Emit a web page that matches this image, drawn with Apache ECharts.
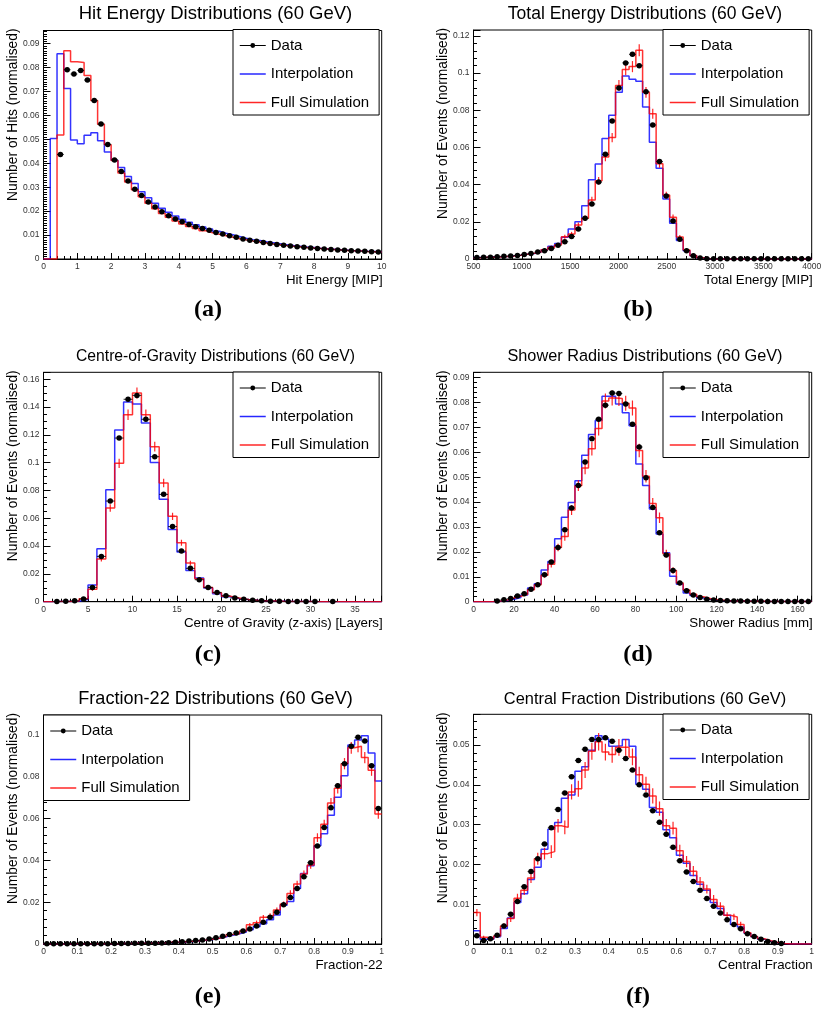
<!DOCTYPE html>
<html><head><meta charset="utf-8">
<script src="https://cdn.jsdelivr.net/npm/echarts@6/dist/echarts.min.js"></script>
<style>html,body{margin:0;padding:0;background:#fff}#c{width:827px;height:1013px}</style>
</head><body><div id="c"></div>
<script>
// ---------------- DATA ----------------
const seriesNames = ['Data', 'Interpolation', 'Full Simulation'];

// (a) Hit energy, 50 bins over [0,10]
const hitData = [null, null, 0.0437, 0.0791, 0.0773, 0.0788, 0.0748, 0.0662, 0.0564, 0.0479,
  0.0414, 0.0366, 0.0326, 0.0292, 0.0265, 0.0238, 0.0217, 0.0198, 0.0181, 0.0167,
  0.0156, 0.0144, 0.0135, 0.0127, 0.0120, 0.0111, 0.0104, 0.0097, 0.0091, 0.0084,
  0.0078, 0.0074, 0.0069, 0.0065, 0.0061, 0.0057, 0.0054, 0.0051, 0.0049, 0.0046,
  0.0044, 0.0042, 0.0040, 0.0038, 0.0037, 0.0035, 0.0033, 0.0032, 0.0030, 0.0029];
const hitInterp = [0, 0.0504, 0.0858, 0.0713, 0.0497, 0.0482, 0.0517, 0.0528, 0.0494, 0.0447,
  0.0413, 0.0382, 0.0345, 0.0316, 0.0281, 0.0256, 0.0233, 0.0212, 0.0195, 0.0180,
  0.0166, 0.0154, 0.0143, 0.0134, 0.0125, 0.0116, 0.0108, 0.0101, 0.0094, 0.0087,
  0.0081, 0.0077, 0.0072, 0.0068, 0.0064, 0.0060, 0.0056, 0.0053, 0.0050, 0.0048,
  0.0045, 0.0043, 0.0041, 0.0039, 0.0037, 0.0035, 0.0034, 0.0032, 0.0031, 0.0030];
const hitFull = [0, 0, 0.0518, 0.0870, 0.0824, 0.0821, 0.0767, 0.0662, 0.0563, 0.0478,
  0.0412, 0.0359, 0.0322, 0.0289, 0.0260, 0.0233, 0.0210, 0.0190, 0.0174, 0.0159,
  0.0146, 0.0136, 0.0127, 0.0118, 0.0110, 0.0103, 0.0097, 0.0091, 0.0085, 0.0080,
  0.0075, 0.0071, 0.0067, 0.0063, 0.0060, 0.0056, 0.0053, 0.0051, 0.0048, 0.0046,
  0.0044, 0.0042, 0.0040, 0.0038, 0.0036, 0.0034, 0.0033, 0.0031, 0.0030, 0.0029];

// (b) Total energy, 50 bins over [500,4000]
const totData = [0.0008, 0.0009, 0.0010, 0.0012, 0.0015, 0.0016, 0.0019, 0.0024, 0.0030, 0.0037,
  0.0045, 0.0057, 0.0074, 0.0093, 0.0121, 0.0161, 0.0219, 0.0296, 0.0414, 0.0563,
  0.0743, 0.0920, 0.1055, 0.1101, 0.1040, 0.0900, 0.0721, 0.0524, 0.0339, 0.0204,
  0.0106, 0.0045, 0.0017, 0.0006, 0.0002, 0.0001, 0.0001, 0.0001, 0.0001, 0.0001,
  0.0001, 0.0001, 0.0001, 0.0001, 0.0001, 0.0001, 0.0001, 0.0001, 0.0001, 0.0001];
const totInterp = [0.0008, 0.0009, 0.0011, 0.0012, 0.0014, 0.0017, 0.0020, 0.0025, 0.0030, 0.0037,
  0.0050, 0.0068, 0.0083, 0.0117, 0.0161, 0.0201, 0.0287, 0.0427, 0.0511, 0.0648,
  0.0773, 0.0897, 0.0985, 0.0967, 0.0956, 0.0818, 0.0628, 0.0488, 0.0323, 0.0192,
  0.0100, 0.0045, 0.0017, 0.0005, 0.0002, 0, 0, 0, 0, 0,
  0, 0, 0, 0, 0, 0, 0, 0, 0, 0];
const totFull = [0.0007, 0.0009, 0.0010, 0.0011, 0.0014, 0.0016, 0.0020, 0.0026, 0.0031, 0.0038,
  0.0050, 0.0063, 0.0076, 0.0120, 0.0135, 0.0183, 0.0219, 0.0317, 0.0421, 0.0549,
  0.0653, 0.0934, 0.1019, 0.1035, 0.1123, 0.0897, 0.0782, 0.0513, 0.0344, 0.0224,
  0.0118, 0.0048, 0.0019, 0.0007, 0.0002, 0, 0, 0, 0, 0,
  0, 0, 0, 0, 0, 0, 0, 0, 0, 0];
const totFullErr = [0.0002, 0.0002, 0.0003, 0.0003, 0.0003, 0.0004, 0.0004, 0.0005, 0.0005, 0.0006,
  0.0007, 0.0008, 0.0009, 0.0011, 0.0011, 0.0013, 0.0015, 0.0018, 0.0020, 0.0023,
  0.0025, 0.0029, 0.0030, 0.0030, 0.0032, 0.0029, 0.0027, 0.0022, 0.0018, 0.0015,
  0.0011, 0.0007, 0.0004, 0.0003, 0.0001, 0, 0, 0, 0, 0,
  0, 0, 0, 0, 0, 0, 0, 0, 0, 0];

// (c) Centre of gravity, 38 bins over [0,38]
const cogData = [null, 0.0002, 0.0003, 0.0006, 0.0019, 0.0103, 0.0326, 0.0724, 0.1177, 0.1456,
  0.1484, 0.1312, 0.1043, 0.0772, 0.0540, 0.0364, 0.0240, 0.0158, 0.0103, 0.0067,
  0.0043, 0.0027, 0.0017, 0.0011, 0.0007, 0.0004, 0.0003, 0.0002, 0.0001, 0.0001,
  0.0001, null, 0.0001, null, null, null, null, null];
const cogInterp = [0, 0.0001, 0.0002, 0.0004, 0.0016, 0.0120, 0.0381, 0.0806, 0.1235, 0.1437,
  0.1422, 0.1285, 0.1002, 0.0736, 0.0520, 0.0357, 0.0225, 0.0170, 0.0098, 0.0058,
  0.0036, 0.0022, 0.0015, 0.0010, 0.0006, 0.0004, 0.0003, 0.0002, 0.0001, 0.0001,
  0, 0, 0, 0, 0, 0, 0, 0];
const cogFull = [0, 0.0001, 0.0002, 0.0005, 0.0022, 0.0089, 0.0307, 0.0674, 0.0995, 0.1345,
  0.1501, 0.1345, 0.1115, 0.0854, 0.0614, 0.0424, 0.0278, 0.0165, 0.0102, 0.0065,
  0.0040, 0.0026, 0.0016, 0.0011, 0.0007, 0.0005, 0.0003, 0.0002, 0.0001, 0.0001,
  0, 0, 0, 0, 0, 0, 0, 0];
const cogFullErr = [0, 0.0001, 0.0001, 0.0002, 0.0005, 0.0010, 0.0018, 0.0027, 0.0033, 0.0038,
  0.0040, 0.0038, 0.0035, 0.0030, 0.0026, 0.0021, 0.0017, 0.0013, 0.0010, 0.0008,
  0.0006, 0.0005, 0.0004, 0.0003, 0.0003, 0.0002, 0.0002, 0.0001, 0.0001, 0.0001,
  0, 0, 0, 0, 0, 0, 0, 0];

// (d) Shower radius, 50 bins over [0,167]
const radData = [null, null, null, 0.0003, 0.0008, 0.0013, 0.0023, 0.0032, 0.0050, 0.0068,
  0.0108, 0.0159, 0.0218, 0.0289, 0.0376, 0.0467, 0.0561, 0.0654, 0.0733, 0.0789,
  0.0838, 0.0836, 0.0794, 0.0712, 0.0621, 0.0498, 0.0378, 0.0277, 0.0187, 0.0125,
  0.0075, 0.0044, 0.0027, 0.0017, 0.0010, 0.0007, 0.0005, 0.0004, 0.0003, 0.0003,
  0.0002, 0.0002, 0.0002, 0.0001, 0.0001, 0.0001, 0.0001, 0.0001, 0.0001, 0.0001];
const radInterp = [0, 0, 0, 0.0002, 0.0005, 0.0010, 0.0017, 0.0027, 0.0055, 0.0072,
  0.0127, 0.0161, 0.0253, 0.0339, 0.0398, 0.0486, 0.0588, 0.0671, 0.0727, 0.0825,
  0.0825, 0.0794, 0.0759, 0.0706, 0.0553, 0.0467, 0.0372, 0.0272, 0.0197, 0.0102,
  0.0070, 0.0035, 0.0025, 0.0015, 0.0010, 0.0007, 0.0005, 0.0004, 0.0003, 0.0003,
  0.0002, 0.0002, 0.0001, 0.0001, 0.0001, 0.0001, 0.0001, 0.0001, 0.0001, 0.0001];
const radFull = [0, 0, 0, 0.0003, 0.0007, 0.0015, 0.0022, 0.0030, 0.0048, 0.0068,
  0.0106, 0.0150, 0.0218, 0.0262, 0.0368, 0.0466, 0.0537, 0.0614, 0.0695, 0.0806,
  0.0818, 0.0816, 0.0797, 0.0778, 0.0607, 0.0504, 0.0394, 0.0337, 0.0193, 0.0125,
  0.0075, 0.0047, 0.0030, 0.0020, 0.0013, 0.0009, 0.0006, 0.0004, 0.0003, 0.0003,
  0.0002, 0.0002, 0.0002, 0.0001, 0.0001, 0.0001, 0.0001, 0.0001, 0.0001, 0.0001];
const radFullErr = [0, 0, 0, 0.0002, 0.0003, 0.0004, 0.0005, 0.0006, 0.0007, 0.0009,
  0.0010, 0.0013, 0.0015, 0.0017, 0.0020, 0.0022, 0.0025, 0.0027, 0.0028, 0.0030,
  0.0030, 0.0030, 0.0030, 0.0030, 0.0027, 0.0025, 0.0022, 0.0021, 0.0016, 0.0013,
  0.0010, 0.0008, 0.0006, 0.0005, 0.0004, 0.0003, 0.0003, 0.0002, 0.0002, 0.0002,
  0.0001, 0.0001, 0.0001, 0.0001, 0.0001, 0.0001, 0.0001, 0.0001, 0.0001, 0.0001];

// (e) Fraction-22, 50 bins over [0,1]
const f22Data = [0.0001, 0.0001, 0.0001, 0.0001, 0.0001, 0.0001, 0.0001, 0.0001, 0.0001, 0.0001,
  0.0002, 0.0002, 0.0002, 0.0003, 0.0003, 0.0004, 0.0004, 0.0005, 0.0006, 0.0008,
  0.0011, 0.0014, 0.0017, 0.0019, 0.0024, 0.0030, 0.0037, 0.0045, 0.0053, 0.0062,
  0.0072, 0.0086, 0.0104, 0.0128, 0.0152, 0.0188, 0.0222, 0.0266, 0.0322, 0.0389,
  0.0469, 0.0557, 0.0652, 0.0757, 0.0863, 0.0946, 0.0989, 0.0971, 0.0853, 0.0649];
const f22Interp = [0, 0, 0, 0, 0, 0.0001, 0.0001, 0.0001, 0.0001, 0.0001,
  0.0001, 0.0002, 0.0002, 0.0003, 0.0003, 0.0004, 0.0005, 0.0006, 0.0007, 0.0008,
  0.0010, 0.0012, 0.0015, 0.0018, 0.0022, 0.0027, 0.0034, 0.0042, 0.0049, 0.0057,
  0.0068, 0.0082, 0.0097, 0.0116, 0.0139, 0.0185, 0.0204, 0.0266, 0.0337, 0.0375,
  0.0470, 0.0528, 0.0616, 0.0702, 0.0805, 0.0952, 0.0976, 0.0997, 0.0914, 0.0780];
const f22Full = [0, 0, 0, 0, 0.0001, 0.0001, 0.0001, 0.0001, 0.0001, 0.0001,
  0.0001, 0.0002, 0.0002, 0.0003, 0.0004, 0.0004, 0.0005, 0.0006, 0.0008, 0.0009,
  0.0011, 0.0013, 0.0016, 0.0019, 0.0023, 0.0028, 0.0036, 0.0046, 0.0049, 0.0062,
  0.0092, 0.0102, 0.0128, 0.0136, 0.0163, 0.0191, 0.0242, 0.0287, 0.0335, 0.0378,
  0.0509, 0.0573, 0.0675, 0.0745, 0.0863, 0.0939, 0.0946, 0.0892, 0.0831, 0.0622];
const f22FullErr = [0, 0, 0, 0, 0.0001, 0.0001, 0.0001, 0.0001, 0.0001, 0.0001,
  0.0001, 0.0001, 0.0001, 0.0002, 0.0002, 0.0002, 0.0002, 0.0003, 0.0003, 0.0003,
  0.0003, 0.0004, 0.0004, 0.0005, 0.0005, 0.0006, 0.0006, 0.0007, 0.0007, 0.0008,
  0.0009, 0.0010, 0.0011, 0.0011, 0.0012, 0.0013, 0.0015, 0.0016, 0.0017, 0.0018,
  0.0021, 0.0022, 0.0024, 0.0025, 0.0027, 0.0028, 0.0028, 0.0027, 0.0026, 0.0023];

// (f) Central fraction, 50 bins over [0,1]
const cfData = [0.0021, 0.0009, 0.0013, 0.0022, 0.0045, 0.0075, 0.0107, 0.0144, 0.0182, 0.0214,
  0.0251, 0.0292, 0.0338, 0.0379, 0.0420, 0.0461, 0.0489, 0.0514, 0.0514, 0.0518,
  0.0509, 0.0487, 0.0466, 0.0437, 0.0400, 0.0374, 0.0335, 0.0306, 0.0276, 0.0243,
  0.0209, 0.0181, 0.0157, 0.0135, 0.0114, 0.0095, 0.0078, 0.0061, 0.0049, 0.0038,
  0.0026, 0.0019, 0.0012, 0.0006, 0.0003, 0.0001, null, null, null, null];
const cfInterp = [0.0033, 0.0012, 0.0012, 0.0018, 0.0039, 0.0065, 0.0104, 0.0126, 0.0162, 0.0193,
  0.0238, 0.0288, 0.0305, 0.0366, 0.0374, 0.0434, 0.0445, 0.0487, 0.0523, 0.0515,
  0.0497, 0.0498, 0.0514, 0.0497, 0.0401, 0.0389, 0.0343, 0.0331, 0.0287, 0.0267,
  0.0223, 0.0203, 0.0172, 0.0150, 0.0135, 0.0104, 0.0089, 0.0072, 0.0049, 0.0043,
  0.0027, 0.0018, 0.0012, 0.0007, 0.0003, 0.0001, 0, 0, 0, 0];
const cfFull = [0.0079, 0.0017, 0.0013, 0.0020, 0.0045, 0.0064, 0.0115, 0.0135, 0.0166, 0.0214,
  0.0227, 0.0232, 0.0297, 0.0293, 0.0382, 0.0390, 0.0437, 0.0484, 0.0508, 0.0482,
  0.0476, 0.0494, 0.0494, 0.0470, 0.0425, 0.0401, 0.0372, 0.0340, 0.0297, 0.0291,
  0.0234, 0.0207, 0.0183, 0.0156, 0.0138, 0.0112, 0.0095, 0.0072, 0.0068, 0.0049,
  0.0028, 0.0019, 0.0013, 0.0008, 0.0004, 0.0001, 0, 0, 0, 0];
const cfFullErr = [0.0009, 0.0004, 0.0004, 0.0005, 0.0007, 0.0009, 0.0011, 0.0012, 0.0013, 0.0015,
  0.0015, 0.0016, 0.0017, 0.0017, 0.0019, 0.0020, 0.0020, 0.0021, 0.0022, 0.0021,
  0.0021, 0.0021, 0.0021, 0.0021, 0.0020, 0.0019, 0.0019, 0.0018, 0.0017, 0.0016,
  0.0015, 0.0014, 0.0013, 0.0012, 0.0011, 0.0011, 0.0010, 0.0008, 0.0008, 0.0007,
  0.0005, 0.0004, 0.0004, 0.0003, 0.0002, 0.0001, 0, 0, 0, 0];

// ---------------- PANEL SETUP ----------------
const panels = [
  { title: 'Hit Energy Distributions (60 GeV)', caption: '(a)', xName: 'Hit Energy [MIP]', yName: 'Number of Hits (normalised)',
    xMin: 0, xMax: 10, xInterval: 1, xMinor: 5, yMax: 0.0955, yInterval: 0.01, yMinor: 10,
    data: hitData, interp: hitInterp, full: hitFull, fullErr: null,
    left: 43.5, top: 30.5, height: 228.5, titleSize: 18.5, titleY: 14, legendLeft: 233, legendTop: 29.5, captionY: 310 },
  { title: 'Total Energy Distributions (60 GeV)', caption: '(b)', xName: 'Total Energy [MIP]', yName: 'Number of Events (normalised)',
    xMin: 500, xMax: 4000, xInterval: 500, xMinor: 5, yMax: 0.1232, yInterval: 0.02, yMinor: 5,
    data: totData, interp: totInterp, full: totFull, fullErr: totFullErr,
    left: 473.5, top: 30, height: 229, titleSize: 17.5, titleY: 14, legendLeft: 663, legendTop: 29.5, captionY: 310 },
  { title: 'Centre-of-Gravity Distributions (60 GeV)', caption: '(c)', xName: 'Centre of Gravity (z-axis) [Layers]', yName: 'Number of Events (normalised)',
    xMin: 0, xMax: 38, xInterval: 5, xMinor: 5, yMax: 0.165, yInterval: 0.02, yMinor: 4,
    data: cogData, interp: cogInterp, full: cogFull, fullErr: cogFullErr,
    left: 43.5, top: 372.3, height: 229.4, titleSize: 15.7, titleY: 356.5, legendLeft: 233, legendTop: 372, captionY: 655 },
  { title: 'Shower Radius Distributions (60 GeV)', caption: '(d)', xName: 'Shower Radius [mm]', yName: 'Number of Events (normalised)',
    xMin: 0, xMax: 167, xInterval: 20, xMinor: 4, yMax: 0.0921, yInterval: 0.01, yMinor: 5,
    data: radData, interp: radInterp, full: radFull, fullErr: radFullErr,
    left: 473.5, top: 372.3, height: 229.4, titleSize: 16.3, titleY: 356.5, legendLeft: 663, legendTop: 372, captionY: 655 },
  { title: 'Fraction-22 Distributions (60 GeV)', caption: '(e)', xName: 'Fraction-22', yName: 'Number of Events (normalised)',
    xMin: 0, xMax: 1, xInterval: 0.1, xMinor: 5, yMax: 0.1096, yInterval: 0.02, yMinor: 5,
    data: f22Data, interp: f22Interp, full: f22Full, fullErr: f22FullErr,
    left: 43.5, top: 715, height: 229, titleSize: 18.1, titleY: 699, legendLeft: 43.5, legendTop: 715, captionY: 997 },
  { title: 'Central Fraction Distributions (60 GeV)', caption: '(f)', xName: 'Central Fraction', yName: 'Number of Events (normalised)',
    xMin: 0, xMax: 1, xInterval: 0.1, xMinor: 5, yMax: 0.0577, yInterval: 0.01, yMinor: 5,
    data: cfData, interp: cfInterp, full: cfFull, fullErr: cfFullErr,
    left: 473.5, top: 714.3, height: 229.7, titleSize: 16.4, titleY: 699, legendLeft: 663, legendTop: 714, captionY: 997 }
];

const FONT = "'Liberation Sans', Arial, Helvetica, sans-serif";
const GRID_W = 338.2;
const BLUE = '#0000ff', RED = '#ff0000';
const fmt = v => String(parseFloat(Number(v).toPrecision(10)));

function segRender(color, width) {
  return function (params, api) {
    const a = api.coord([api.value(0), api.value(1)]);
    const b = api.coord([api.value(2), api.value(3)]);
    return { type: 'line', shape: { x1: a[0], y1: a[1], x2: b[0], y2: b[1] },
      style: { stroke: color, lineWidth: width, opacity: 0.85 } };
  };
}

const option = { animation: false, backgroundColor: '#fff', title: [], legend: [], grid: [], xAxis: [], yAxis: [], series: [] };

panels.forEach((p, i) => {
  const n = p.interp.length;
  const w = (p.xMax - p.xMin) / n;
  const edge = k => p.xMin + k * w;
  const centre = k => p.xMin + (k + 0.5) * w;
  const hist = vals => { const pts = vals.map((v, k) => [edge(k), v]); pts.push([edge(n), vals[n - 1]]); return pts; };
  const colCenter = p.left < 200 ? 208 : 638;
  const titleCenter = p.left < 200 ? 215.5 : 645;
  const ratio = (p.xMax - p.xMin) / p.xInterval;
  const xAligned = Math.abs(ratio - Math.round(ratio)) < 1e-9;

  option.title.push({ text: p.title, left: titleCenter, top: p.titleY, textAlign: 'center', textVerticalAlign: 'middle', padding: 0,
    textStyle: { fontFamily: FONT, fontSize: p.titleSize, fontWeight: 'normal', color: '#000' } });
  option.title.push({ text: p.caption, left: colCenter, top: p.captionY, textAlign: 'center', textVerticalAlign: 'middle', padding: 0,
    textStyle: { fontFamily: "'Liberation Serif', 'DejaVu Serif', serif", fontSize: 24, fontWeight: 'bold', color: '#000' } });

  option.grid.push({ left: p.left, top: p.top, width: GRID_W, height: p.height, show: true, borderColor: '#000', borderWidth: 1,
    backgroundColor: 'transparent', containLabel: false, outerBoundsMode: 'none' });

  const axisCommon = {
    type: 'value', gridIndex: i, splitLine: { show: false }, minorSplitLine: { show: false },
    axisLine: { show: true, onZero: false, lineStyle: { color: '#000', width: 1 } },
    nameMoveOverlap: false
  };
  option.xAxis.push(Object.assign({}, axisCommon, {
    min: p.xMin, max: p.xMax, interval: p.xInterval,
    axisTick: { show: true, inside: true, length: 6, lineStyle: { color: '#000', width: 1 } },
    minorTick: { show: true, splitNumber: p.xMinor, length: 3, lineStyle: { color: '#000', width: 1 } },
    axisLabel: { fontFamily: FONT, fontSize: 8.5, color: '#333', margin: 3, showMaxLabel: xAligned, formatter: fmt },
    name: p.xName, nameLocation: 'end', nameGap: 1,
    nameTextStyle: { fontFamily: FONT, fontSize: 13.3, color: '#000', align: 'right', verticalAlign: 'top', lineHeight: 15, padding: [14, 0, 0, 0] }
  }));
  option.yAxis.push(Object.assign({}, axisCommon, {
    min: 0, max: p.yMax, interval: p.yInterval,
    axisTick: { show: true, inside: true, length: 7, lineStyle: { color: '#000', width: 1 } },
    minorTick: { show: true, splitNumber: p.yMinor, length: 3.5, lineStyle: { color: '#000', width: 1 } },
    axisLabel: { fontFamily: FONT, fontSize: 8.5, color: '#333', margin: 4, showMaxLabel: false, formatter: fmt },
    name: p.yName, nameLocation: 'end', nameRotate: 90, nameGap: 2,
    nameTextStyle: { fontFamily: FONT, fontSize: 13.8, color: '#000', align: 'right', verticalAlign: 'bottom', lineHeight: 16, padding: [0, 0, 22, 0] }
  }));

  option.legend.push({
    left: p.legendLeft, top: p.legendTop, orient: 'vertical', selectedMode: false,
    itemWidth: 26, itemHeight: 6, itemGap: 11.5, padding: [7.5, 10, 4, 6],
    borderColor: '#000', borderWidth: 1, backgroundColor: '#fff', z: 10,
    textStyle: { fontFamily: FONT, fontSize: 15, color: '#000', lineHeight: 17 },
    data: [
      { name: seriesNames[0], lineStyle: { color: '#000', width: 1, opacity: 1, type: 'solid' } },
      { name: seriesNames[1], itemStyle: { opacity: 0 }, lineStyle: { color: BLUE, width: 1.5, opacity: 0.85 } },
      { name: seriesNames[2], itemStyle: { opacity: 0 }, lineStyle: { color: RED, width: 1.5, opacity: 0.85 } }
    ]
  });

  option.series.push({ type: 'line', name: seriesNames[1], xAxisIndex: i, yAxisIndex: i, data: hist(p.interp), step: 'end',
    symbol: 'none', lineStyle: { color: BLUE, width: 1.5, opacity: 0.8 }, itemStyle: { color: BLUE }, z: 2, silent: true });
  option.series.push({ type: 'line', name: seriesNames[2], xAxisIndex: i, yAxisIndex: i, data: hist(p.full), step: 'end',
    symbol: 'none', lineStyle: { color: RED, width: 1.5, opacity: 0.8 }, itemStyle: { color: RED }, z: 3, silent: true });

  if (p.fullErr) {
    const errRows = [];
    p.full.forEach((v, k) => { const e = p.fullErr[k]; if (v > 0 && e > 0) errRows.push([centre(k), v - e, centre(k), v + e]); });
    option.series.push({ type: 'custom', name: 'Full Simulation errors', xAxisIndex: i, yAxisIndex: i, coordinateSystem: 'cartesian2d',
      data: errRows, encode: { x: [0, 2], y: [1, 3] }, renderItem: segRender(RED, 1.2), clip: true, z: 3, silent: true });
  }

  const pts = [], bars = [];
  p.data.forEach((v, k) => { if (v !== null) { pts.push([centre(k), v]); bars.push([edge(k), v, edge(k + 1), v]); } });
  option.series.push({ type: 'custom', name: 'Data errors', xAxisIndex: i, yAxisIndex: i, coordinateSystem: 'cartesian2d',
    data: bars, encode: { x: [0, 2], y: [1, 3] }, renderItem: segRender('#000', 1), clip: true, z: 4, silent: true });
  option.series.push({ type: 'line', name: seriesNames[0], xAxisIndex: i, yAxisIndex: i, data: pts,
    symbol: 'circle', symbolSize: 5.5, showAllSymbol: true, lineStyle: { width: 0, opacity: 0 }, itemStyle: { color: '#000' }, z: 5, silent: true });
});

const chart = echarts.init(document.getElementById('c'), null, { renderer: 'canvas' });
chart.setOption(option);
</script>
</body></html>
